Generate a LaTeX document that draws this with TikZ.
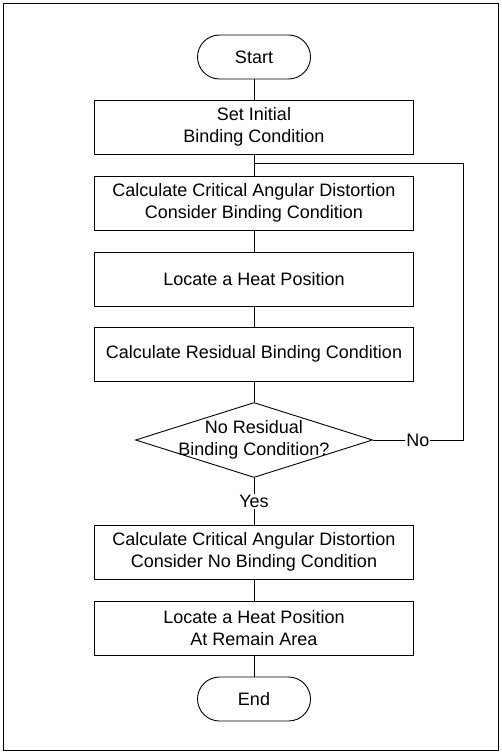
\documentclass[tikz,border=0pt]{standalone}
\usepackage{fontspec}
\setmainfont{Liberation Sans}
\usetikzlibrary{shapes.geometric}

\begin{document}
\begin{tikzpicture}[x=1pt,y=-1pt,line width=0.9pt,
    every node/.style={font=\fontsize{18}{21.5}\selectfont},
    boite/.style={draw,minimum width=319pt,minimum height=54pt,inner sep=0pt,align=center},
    terminal/.style={draw,rounded corners=22pt,minimum width=113pt,minimum height=44pt,inner sep=0pt},
    losange/.style={draw,diamond,minimum width=237pt,minimum height=75pt,inner sep=0pt},
    etiquette/.style={fill=white,inner sep=1pt}]

    %cadre
    \useasboundingbox (0,0) rectangle (501,754);
    \draw (3,3) rectangle (498,750);

    %etapes
    \node[terminal] (start) at (254,57) {Start};
    \node[boite] (init) at (254,127) {Set Initial\\Binding Condition};
    \node[boite] (calc1) at (254,203) {Calculate Critical Angular Distortion\\Consider Binding Condition};
    \node[boite] (heat1) at (254,279) {Locate a Heat Position};
    \node[boite] (resid) at (254,354) {Calculate Residual Binding Condition};

    %test
    \node[losange] (test) at (254,440) {};
    \node[align=center] (testtxt) at (254,440) {No Residual\\Binding Condition?};

    \node[boite] (calc2) at (254,552) {Calculate Critical Angular Distortion\\Consider No Binding Condition};
    \node[boite] (heat2) at (254,628) {Locate a Heat Position\\At Remain Area};
    \node[terminal] (end) at (254,699) {End};

    %liaisons
    \draw (start) -- (init);
    \draw (init) -- (calc1);
    \draw (calc1) -- (heat1);
    \draw (heat1) -- (resid);
    \draw (resid) -- (test);
    \draw (test) -- node[etiquette]{Yes} (calc2);
    \draw (calc2) -- (heat2);
    \draw (heat2) -- (end);

    %boucle No
    \coordinate (branch) at (254,163);
    \coordinate (retour) at (463,440);
    \draw (test.east) -- node[etiquette]{No} (retour) |- (branch);

\end{tikzpicture}
\end{document}
